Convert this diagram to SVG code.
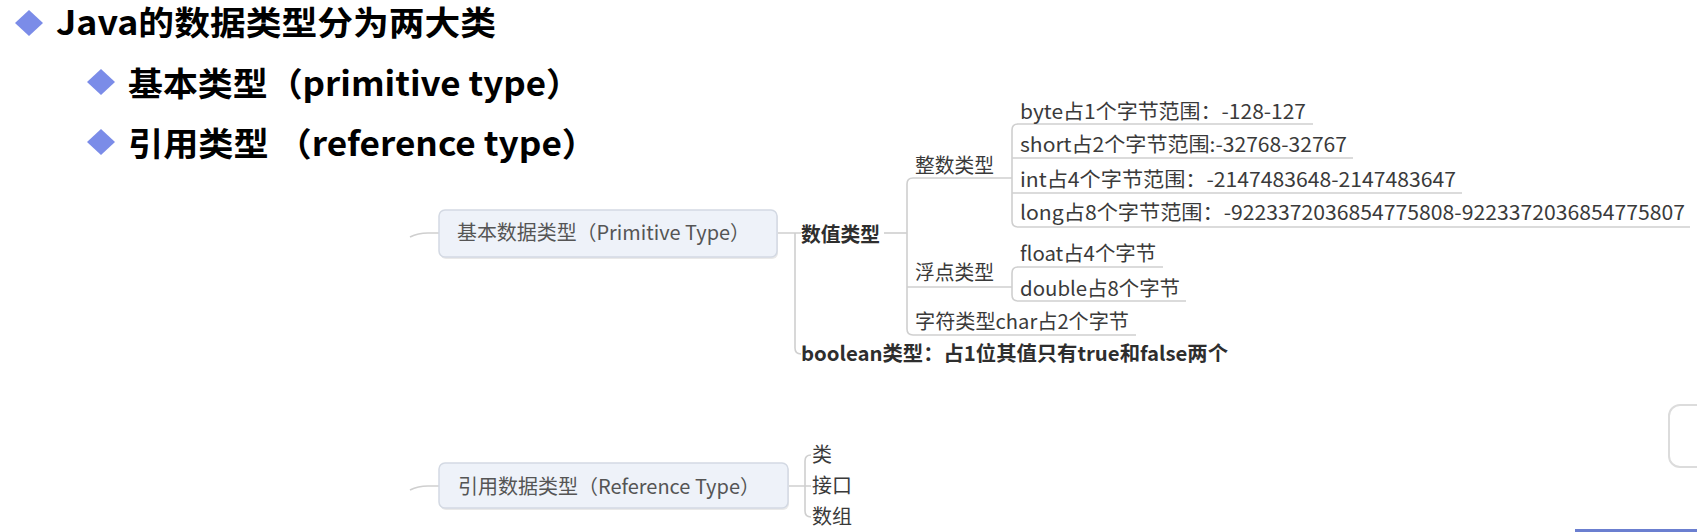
<svg xmlns="http://www.w3.org/2000/svg" width="1697" height="532" viewBox="0 0 1697 532">
<style>
.hd{font-family:"Noto Sans CJK SC","Noto Sans",sans-serif;font-weight:700;font-size:33px;fill:#000}
.t{font-family:"Noto Sans CJK SC","Noto Sans",sans-serif;font-size:20px;fill:#3a3a3a}
.tb{font-family:"Noto Sans CJK SC","Noto Sans",sans-serif;font-size:20px;font-weight:700;fill:#2e2e2e}
.bt{font-family:"Noto Sans CJK SC","Noto Sans",sans-serif;font-size:20px;fill:#555}
.box{fill:#eef2f9;stroke:#d3d9e3;stroke-width:1.5}
.sh{fill:#e9e9e9}
.ln{fill:none;stroke:#cfcfcf;stroke-width:1.6}
.dm{fill:#7b8ce8}
</style>
<rect width="1697" height="532" fill="#fff"/>
<g id="heading">
  <polygon class="dm" points="15,23 29,10 43,23 29,36"/>
  <text class="hd" x="56" y="35" textLength="440" lengthAdjust="spacingAndGlyphs">Java的数据类型分为两大类</text>
  <polygon class="dm" points="87,82 101,69 115,82 101,95"/>
  <text class="hd" x="128" y="96" textLength="453" lengthAdjust="spacingAndGlyphs">基本类型（primitive type）</text>
  <polygon class="dm" points="87,142 101,129 115,142 101,155"/>
  <text class="hd" x="128" y="156" textLength="469" lengthAdjust="spacingAndGlyphs">引用类型 （reference type）</text>
</g>
<g id="connectors">
  <path class="ln" d="M410 237 Q418 233 428 233 L439 233"/>
  <path class="ln" d="M777 233 L801 233 M795 233 L795 348 Q795 354 801 354"/>
  <path class="ln" d="M884 233 L907 233"/>
  <path class="ln" d="M1012 178 L913 178 Q907 178 907 184 L907 329 Q907 335 913 335 L1136 335"/>
  <path class="ln" d="M907 287 L1012 287"/>
  <path class="ln" d="M1313 124 L1018 124 Q1012 124 1012 130 L1012 221 Q1012 227 1018 227 L1690 227"/>
  <path class="ln" d="M1012 158 L1353 158 M1012 193 L1462 193"/>
  <path class="ln" d="M1163 267 L1018 267 Q1012 267 1012 273 L1012 295 Q1012 301 1018 301 L1186 301"/>
  <path class="ln" d="M410 490 Q418 486 428 486 L439 486"/>
  <path class="ln" d="M788 486 L811 486 M811 455 Q805 455 805 461 L805 511 Q805 517 811 517"/>
</g>
<g id="node-primitive">
  <rect class="sh" x="440" y="212" width="338" height="47" rx="6"/>
  <rect class="box" x="439" y="210" width="338" height="47" rx="6"/>
  <text class="bt" x="457" y="240" textLength="293" lengthAdjust="spacingAndGlyphs">基本数据类型（Primitive Type）</text>
</g>
<g id="node-numeric"><text class="tb" x="801" y="242" textLength="79" lengthAdjust="spacingAndGlyphs">数值类型</text></g>
<g id="node-integer"><text class="t" x="915" y="173" textLength="79" lengthAdjust="spacingAndGlyphs">整数类型</text></g>
<g id="node-byte"><text class="t" x="1020" y="119" textLength="286" lengthAdjust="spacingAndGlyphs">byte占1个字节范围：-128-127</text></g>
<g id="node-short"><text class="t" x="1020" y="152" textLength="327" lengthAdjust="spacingAndGlyphs">short占2个字节范围:-32768-32767</text></g>
<g id="node-int"><text class="t" x="1020" y="187" textLength="436" lengthAdjust="spacingAndGlyphs">int占4个字节范围：-2147483648-2147483647</text></g>
<g id="node-long"><text class="t" x="1020" y="220" textLength="665" lengthAdjust="spacingAndGlyphs">long占8个字节范围：-9223372036854775808-9223372036854775807</text></g>
<g id="node-float-type"><text class="t" x="915" y="280" textLength="79" lengthAdjust="spacingAndGlyphs">浮点类型</text></g>
<g id="node-float"><text class="t" x="1020" y="261" textLength="136" lengthAdjust="spacingAndGlyphs">float占4个字节</text></g>
<g id="node-double"><text class="t" x="1020" y="296" textLength="160" lengthAdjust="spacingAndGlyphs">double占8个字节</text></g>
<g id="node-char"><text class="t" x="915" y="329" textLength="214" lengthAdjust="spacingAndGlyphs">字符类型char占2个字节</text></g>
<g id="node-boolean"><text class="tb" x="801" y="361" textLength="427" lengthAdjust="spacingAndGlyphs">boolean类型：占1位其值只有true和false两个</text></g>
<g id="node-reference">
  <rect class="sh" x="440" y="465" width="349" height="45" rx="6"/>
  <rect class="box" x="439" y="463" width="349" height="45" rx="6"/>
  <text class="bt" x="458" y="494" textLength="302" lengthAdjust="spacingAndGlyphs">引用数据类型（Reference Type）</text>
</g>
<g id="node-class"><text class="t" x="812" y="462">类</text></g>
<g id="node-interface"><text class="t" x="812" y="493">接口</text></g>
<g id="node-array"><text class="t" x="812" y="524">数组</text></g>
<rect x="1669" y="405" width="44" height="62" rx="11" fill="#fff" stroke="#dcdcdc" stroke-width="2"/>
<rect x="1575" y="529" width="122" height="3" fill="#6b7fd0"/>
</svg>
